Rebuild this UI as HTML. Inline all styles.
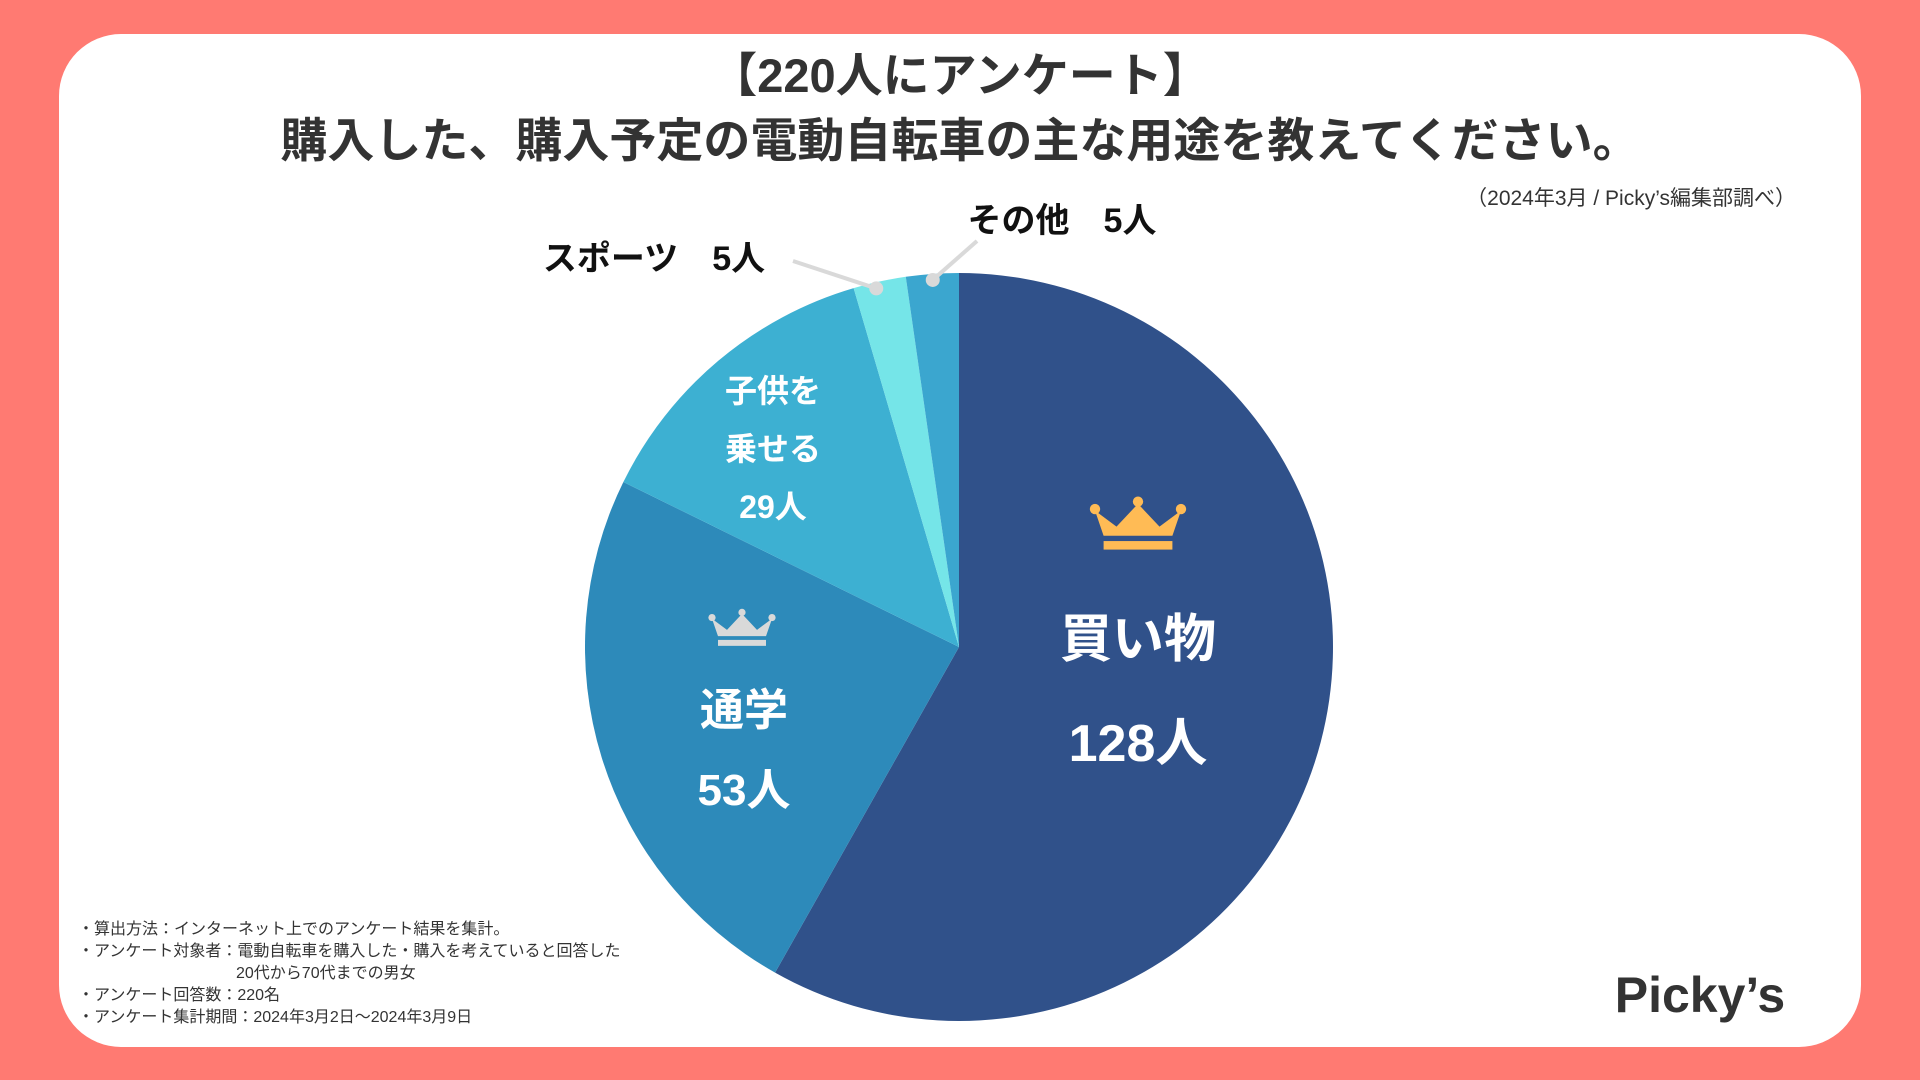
<!DOCTYPE html>
<html><head><meta charset="utf-8">
<style>
html,body{margin:0;padding:0;width:1920px;height:1080px;overflow:hidden;background:#ff7a72;}
svg{display:block;}
text{font-family:"Liberation Sans","Noto Sans CJK JP",sans-serif;}
</style></head>
<body>
<svg id="chart" width="1920" height="1080" viewBox="0 0 1920 1080">
<rect x="0" y="0" width="1920" height="1080" fill="#ff7a72"/>
<rect x="59" y="34" width="1802" height="1013" rx="62" fill="#ffffff"/>
<text x="960" y="92" text-anchor="middle" font-size="47" font-weight="bold" fill="#333">【220人にアンケート】</text>
<text x="960" y="157" text-anchor="middle" font-size="47" font-weight="bold" fill="#333">購入した、購入予定の電動自転車の主な用途を教えてください。</text>
<text x="1796" y="205" text-anchor="end" font-size="21" fill="#333">（2024年3月 / Picky’s編集部調べ）</text>
<g id="slices"></g>
<g id="labels"></g>
<g font-size="16" fill="#333">
<text x="78" y="934">・算出方法：インターネット上でのアンケート結果を集計。</text>
<text x="78" y="956">・アンケート対象者：電動自転車を購入した・購入を考えていると回答した</text>
<text x="236" y="978">20代から70代までの男女</text>
<text x="78" y="1000">・アンケート回答数：220名</text>
<text x="78" y="1022">・アンケート集計期間：2024年3月2日〜2024年3月9日</text>
</g>
<text x="1700" y="1012" text-anchor="middle" font-size="50" font-weight="bold" fill="#333">Picky’s</text>
</svg>
<script>
const categories = ["買い物","通学","子供を乗せる","スポーツ","その他"];
const values = [128, 53, 29, 5, 5];
const colors = ["#30518a","#2d8aba","#3db0d2","#75e5e8","#3ba6cf"];

const NS = "http://www.w3.org/2000/svg";
const cx = 959, cy = 647, r = 374;
const total = values.reduce((a,b)=>a+b,0);
function pt(frac, rad){ const a = frac*2*Math.PI; return [cx + rad*Math.sin(a), cy - rad*Math.cos(a)]; }
function mk(tag, attrs, parent){ const e=document.createElementNS(NS,tag); for(const k in attrs) e.setAttribute(k,attrs[k]); parent.appendChild(e); return e; }
const gS = document.getElementById("slices");
const gL = document.getElementById("labels");
let cum = 0;
const mids = [];
values.forEach((v,i)=>{
  const s = cum/total, e = (cum+v)/total; cum += v;
  mids.push((s+e)/2);
  const [x1,y1]=pt(s,r), [x2,y2]=pt(e,r);
  const large = (e-s)>0.5?1:0;
  const p = mk("path",{d:`M${cx},${cy} L${x1},${y1} A${r},${r} 0 ${large} 1 ${x2},${y2} Z`, fill:colors[i]}, gS);
  
  
});
function txt(x,y,s,size,fill,name){
  const t = mk("text",{x:x,y:y,"text-anchor":"middle","font-size":size,"font-weight":"bold",fill:fill},gL);
  t.textContent = s;
  
  
  return t;
}
function crown(x,y,w,fill,name){
  const h = w*0.62, g = mk("g",{},gL);
  
  
  const l=x-w/2, top=y-h/2;
  mk("path",{d:`M${l},${top+h*0.25} L${l+w*0.25},${top+h*0.55} L${x},${top+h*0.12} L${l+w*0.75},${top+h*0.55} L${l+w},${top+h*0.25} L${l+w*0.9},${top+h*0.72} L${l+w*0.1},${top+h*0.72} Z`,fill:fill},g);
  mk("circle",{cx:l,cy:top+h*0.22,r:w*0.06,fill:fill},g);
  mk("circle",{cx:x,cy:top+h*0.08,r:w*0.06,fill:fill},g);
  mk("circle",{cx:l+w,cy:top+h*0.22,r:w*0.06,fill:fill},g);
  mk("rect",{x:l+w*0.1,y:top+h*0.82,width:w*0.8,height:h*0.16,fill:fill},g);
}
crown(1138,524,86,"#ffbb55","gold-crown");
crown(742,628,60,"#d9d9d9","silver-crown");
txt(1138,657,categories[0],52,"#fff","label-shopping");
txt(1138,761,values[0]+"人",52,"#fff","value-shopping");
txt(744,725,categories[1],44,"#fff","label-commute");
txt(744,805,values[1]+"人",44,"#fff","value-commute");
txt(773,402,"子供を",32,"#fff","label-children-1");
txt(773,460,"乗せる",32,"#fff","label-children-2");
txt(773,518,values[2]+"人",32,"#fff","value-children");
const [sx,sy] = pt(mids[3]-0.002, r-6);
mk("line",{x1:793,y1:261,x2:sx,y2:sy,stroke:"#d9d9d9","stroke-width":4},gL);
mk("circle",{cx:sx,cy:sy,r:7,fill:"#d9d9d9"},gL);
txt(654,270,categories[3]+"　"+values[3]+"人",34,"#111","label-sports");
const [ox,oy] = pt(mids[4], r-6);
mk("line",{x1:977,y1:241,x2:ox,y2:oy,stroke:"#d9d9d9","stroke-width":4},gL);
mk("circle",{cx:ox,cy:oy,r:7,fill:"#d9d9d9"},gL);
txt(1062,232,categories[4]+"　"+values[4]+"人",34,"#111","label-other");
</script>
</body></html>
